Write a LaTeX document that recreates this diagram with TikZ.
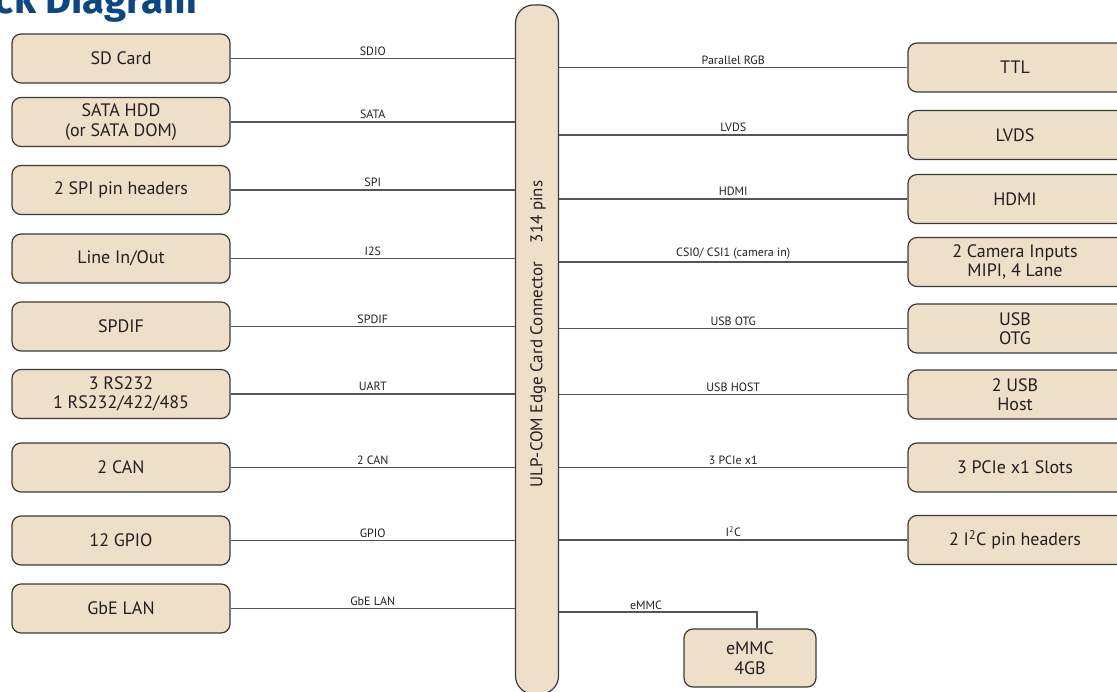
\documentclass[tikz,border=0pt]{standalone}
\usepackage{fontspec}
\setmainfont{PT Sans}
\newfontfamily\titlefont{Fira Sans}
\definecolor{boxfill}{RGB}{238,223,200}
\definecolor{boxdraw}{RGB}{60,58,56}
\definecolor{wire}{RGB}{85,85,85}
\definecolor{txt}{RGB}{35,31,32}
\definecolor{titleblue}{RGB}{14,70,128}
\begin{document}
\begin{tikzpicture}[x=1pt,y=-1pt,
  blk/.style={draw=boxdraw,fill=boxfill,line width=1.2pt,rounded corners=9pt,
    minimum width=218pt,minimum height=49pt,inner sep=0pt,align=center,
    text=txt,font=\fontsize{18}{19.5}\selectfont},
  rblk/.style={blk,minimum width=222pt},
  wirestyle/.style={draw=wire,line width=1.2pt},
  lbl/.style={font=\fontsize{12}{13}\selectfont,text=txt,inner sep=2.5pt,above}]
\useasboundingbox (0,0) rectangle (1117,692);
\clip (0,0) rectangle (1117,692);
\node[font=\titlefont\bfseries\fontsize{40}{40}\selectfont,text=titleblue,anchor=base east,inner sep=0pt] (title) at (197,14) {Block Diagram};
% connector
\node[draw=boxdraw,fill=boxfill,line width=1.2pt,rounded corners=18pt,minimum width=43pt,minimum height=689pt,inner sep=0pt] (conn) at (537,349.5) {};
\node[rotate=90,text=txt,font=\fontsize{17}{19}\selectfont,inner sep=0pt] (conntxt) at (538,334) {ULP-COM Edge Card Connector\hspace{1.1em}314 pins};
% left boxes
\node[blk] (sd)   at (121,58.5) {SD Card};
\node[blk] (sata) at (121,122) {SATA HDD\\(or SATA DOM)};
\node[blk] (spi)  at (121,190) {2 SPI pin headers};
\node[blk] (line) at (121,258.5) {Line In/Out};
\node[blk] (spdif) at (121,326.5) {SPDIF};
\node[blk] (rs)   at (121,394) {3 RS232\\1 RS232/422/485};
\node[blk] (can)  at (121,467.5) {2 CAN};
\node[blk] (gpio) at (121,540.5) {12 GPIO};
\node[blk] (lan)  at (121,608.5) {GbE LAN};
% right boxes
\node[rblk] (ttl)  at (1019,67.5) {\hspace{-8pt}TTL};
\node[rblk] (lvds) at (1019,135) {\hspace{-8pt}LVDS};
\node[rblk] (hdmi) at (1019,199) {\hspace{-8pt}HDMI};
\node[rblk] (cam)  at (1019,262) {\hspace{-8pt}2 Camera Inputs\\\hspace{-8pt}MIPI, 4 Lane};
\node[rblk] (otg)  at (1019,328.5) {\hspace{-8pt}USB\\\hspace{-8pt}OTG};
\node[rblk] (host) at (1019,394.5) {\hspace{-8pt}2 USB\\\hspace{-8pt}Host};
\node[rblk] (pcie) at (1019,467.5) {\hspace{-8pt}3 PCIe x1 Slots};
\node[rblk] (i2c)  at (1019,540) {\hspace{-8pt}2 I\textsuperscript{2}C pin headers};
% eMMC
\node[blk,minimum width=132pt,minimum height=58pt] (emmc) at (750,658) {eMMC\\4GB};
% left wires
\foreach \n/\t in {sd/SDIO,sata/SATA,spi/SPI,line/I2S,spdif/SPDIF,rs/UART,can/2 CAN,gpio/GPIO,lan/GbE LAN}
  \draw[wirestyle] (\n.east) -- node[lbl] {\t} (\n.east -| conn.west);
% right wires
\foreach \n/\t in {ttl/Parallel RGB,lvds/LVDS,hdmi/HDMI,cam/{CSI0/ CSI1 (camera in)},otg/USB OTG,host/USB HOST,pcie/3 PCIe x1}
  \draw[wirestyle] (conn.east |- \n.west) -- node[lbl] {\t} (\n.west);
\draw[wirestyle] (conn.east |- i2c.west) -- node[lbl] {I\textsuperscript{2}C} (i2c.west);
% eMMC wire
\coordinate (ec) at (757,612);
\draw[wirestyle] (conn.east |- ec) -- (ec) -- (ec |- emmc.north);
\node[lbl] (emmclbl) at (646,612) {eMMC};
\end{tikzpicture}
\end{document}
